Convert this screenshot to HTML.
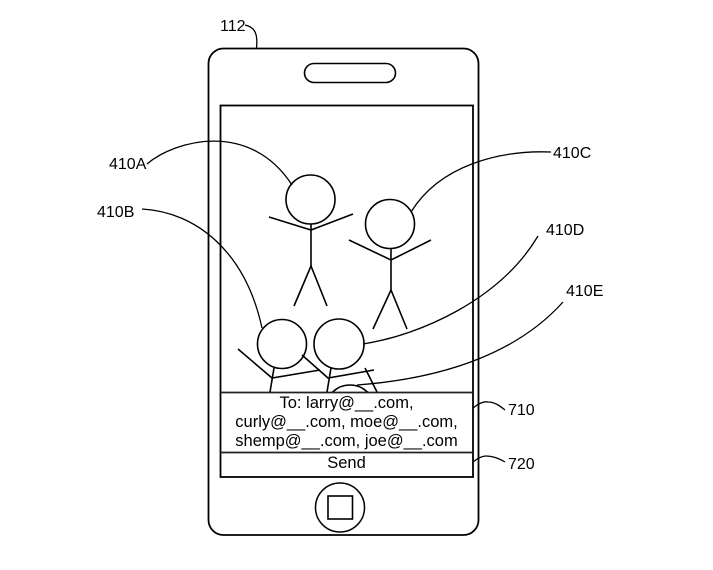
<!DOCTYPE html>
<html>
<head>
<meta charset="utf-8">
<style>
  html, body { margin: 0; padding: 0; background: #ffffff; }
  svg { display: block; }
  text { font-family: "Liberation Sans", Arial, sans-serif; fill: #000; }
</style>
</head>
<body>
<svg width="713" height="570" viewBox="0 0 713 570" xmlns="http://www.w3.org/2000/svg">
  <defs>
    <clipPath id="scr">
      <rect x="221" y="106" width="251" height="286"/>
    </clipPath>
  </defs>

  <!-- phone body -->
  <rect x="208.5" y="48.5" width="270" height="486.5" rx="15" ry="15" fill="none" stroke="#000" stroke-width="1.8"/>
  <!-- speaker -->
  <rect x="304.5" y="63.5" width="91" height="19" rx="9.5" ry="9.5" fill="none" stroke="#000" stroke-width="1.6"/>
  <!-- screen -->
  <rect x="220.5" y="105.5" width="252.5" height="371.5" fill="none" stroke="#000" stroke-width="1.8"/>
  <!-- text box separators -->
  <line x1="220.5" y1="392.5" x2="473" y2="392.5" stroke="#222" stroke-width="1.8"/>
  <line x1="220.5" y1="452.5" x2="473" y2="452.5" stroke="#222" stroke-width="1.8"/>

  <!-- home button -->
  <circle cx="340" cy="507.5" r="24.5" fill="none" stroke="#000" stroke-width="1.5"/>
  <rect x="328" y="496" width="24.5" height="23" fill="none" stroke="#000" stroke-width="1.6"/>

  <!-- stick figures -->
  <g fill="none" stroke="#000" stroke-width="1.6" stroke-linecap="butt">
    <!-- A -->
    <circle cx="310.5" cy="199.5" r="24.5"/>
    <polyline points="269,217 311,230 353,214"/>
    <line x1="311" y1="224" x2="311" y2="266"/>
    <polyline points="294,306 311,266 327,306"/>
    <!-- C -->
    <circle cx="390" cy="224" r="24.5"/>
    <polyline points="349,240 391,260 431,240"/>
    <line x1="391" y1="248.5" x2="391" y2="290"/>
    <polyline points="373,329 391,290 407,329"/>
    <!-- B -->
    <circle cx="282" cy="344" r="24.5"/>
    <polyline points="238,349 272,378 320,370"/>
    <line x1="274" y1="368" x2="270" y2="392"/>
    <!-- D -->
    <circle cx="339" cy="344" r="25"/>
    <polyline points="302,355 328,378 374,370"/>
    <line x1="331" y1="368" x2="327" y2="392"/>
    <!-- E -->
    <g clip-path="url(#scr)">
      <circle cx="350" cy="410" r="25"/>
    </g>
    <line x1="365" y1="368" x2="377" y2="392"/>
  </g>

  <!-- leaders -->
  <g fill="none" stroke="#000" stroke-width="1.3">
    <path d="M147,164 C175,140 250,120 292,185"/>
    <path d="M142,209 C195,212 245,250 262,328"/>
    <path d="M551,152 C500,150 440,165 411,212"/>
    <path d="M538,236 C500,300 420,335 363,344"/>
    <path d="M563,302 C520,350 450,378 357,385"/>
    <path d="M245,25 C255,27 258,34 256.5,48"/>
    <path d="M473,408 C478,404 483,401 488,402 C495,402 500,406 505,410"/>
    <path d="M473,462 C478,458 482,456 486,456 C494,456 500,459 505,462"/>
  </g>

  <!-- labels -->
  <g font-size="16">
    <text x="220" y="31">112</text>
    <text x="109" y="169">410A</text>
    <text x="97" y="217">410B</text>
    <text x="553" y="158">410C</text>
    <text x="546" y="235">410D</text>
    <text x="566" y="296">410E</text>
    <text x="508" y="415">710</text>
    <text x="508" y="469">720</text>
  </g>

  <!-- message text -->
  <g font-size="16.5" text-anchor="middle">
    <text x="346.5" y="408">To: larry@__.com,</text>
    <text x="346.5" y="427">curly@__.com, moe@__.com,</text>
    <text x="346.5" y="446">shemp@__.com, joe@__.com</text>
    <text x="346.5" y="468">Send</text>
  </g>
</svg>
</body>
</html>
